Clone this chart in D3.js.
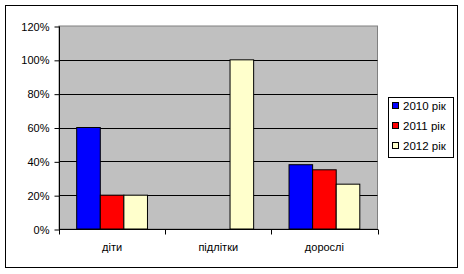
<!DOCTYPE html>
<html>
<head>
<meta charset="utf-8">
<script src="https://cdn.jsdelivr.net/npm/d3@7"></script>
<style>
  body { margin: 0; background: #fff; }
  text { font-family: "Liberation Sans", Arial, sans-serif; font-size: 11px; fill: #000; }
</style>
</head>
<body>
<div id="chart"></div>
<script>
var categories = ["діти", "підлітки", "дорослі"];
var seriesNames = ["2010 рік", "2011 рік", "2012 рік"];
var values2010 = [60, 0, 38];
var values2011 = [20, 0, 35];
var values2012 = [20, 100, 26.5];
var yTicks = [0, 20, 40, 60, 80, 100, 120];

var colors = ["#0000ff", "#ff0000", "#ffffcc"];
var series = [values2010, values2011, values2012];

var w = 464, h = 274;
var plot = { left: 59, top: 26, right: 377.5, bottom: 229 };

var svg = d3.select("#chart").append("svg")
    .attr("width", w)
    .attr("height", h);

// outer frame
svg.append("rect")
    .attr("x", 5.5).attr("y", 5.5)
    .attr("width", 452).attr("height", 262)
    .attr("fill", "#fff")
    .attr("stroke", "#000");

var x0 = d3.scaleBand()
    .domain(categories)
    .range([plot.left, plot.right])
    .paddingInner(0).paddingOuter(0);

// gap width 150% -> 1.5 bar widths of space per category
var x1 = d3.scaleBand()
    .domain(seriesNames)
    .range([0, x0.bandwidth()])
    .paddingOuter(0.75 / 4.5 * 3 / (3 - 0)).paddingInner(0);
var barW = x0.bandwidth() / 4.5;
var groupOffset = barW * 0.75;

var yScale = d3.scaleLinear()
    .domain([0, 120])
    .range([plot.bottom, plot.top]);

// plot background
svg.append("rect")
    .attr("x", plot.left).attr("y", plot.top)
    .attr("width", plot.right - plot.left)
    .attr("height", plot.bottom - plot.top)
    .attr("fill", "#c0c0c0")
    .attr("stroke", "#808080");

// grid lines
svg.append("g")
    .selectAll("line")
    .data(yTicks.filter((d) => d > 0 && d < 120))
    .join("line")
    .attr("x1", plot.left).attr("x2", plot.right)
    .attr("y1", (d) => Math.round(yScale(d)) + 0.5)
    .attr("y2", (d) => Math.round(yScale(d)) + 0.5)
    .attr("stroke", "#000");

// bars
series.forEach((vals, si) => {
    svg.append("g")
        .selectAll("rect")
        .data(vals.map((v, i) => ({ cat: categories[i], v: v })).filter((d) => d.v > 0))
        .join("rect")
        .attr("x", (d) => x0(d.cat) + groupOffset + si * barW)
        .attr("y", (d) => yScale(d.v))
        .attr("width", barW)
        .attr("height", (d) => plot.bottom - yScale(d.v))
        .attr("fill", colors[si])
        .attr("stroke", "#000")
        .attr("stroke-width", 1);
});

// y axis
var yAxis = d3.axisLeft(yScale)
    .tickValues(yTicks)
    .tickSize(5)
    .tickPadding(5)
    .tickFormat((d) => d + "%");

var yG = svg.append("g")
    .attr("transform", `translate(${plot.left + 0.5}, 0.5)`)
    .call(yAxis);
yG.select(".domain").attr("stroke", "#000").attr("d", `M0,${plot.top}V${plot.bottom}`);
yG.selectAll("text").style("font-size", "11px").style("font-family", "'Liberation Sans', Arial, sans-serif");

// x axis
var xG = svg.append("g")
    .attr("transform", `translate(0, ${plot.bottom + 0.5})`);
xG.append("line")
    .attr("x1", plot.left).attr("x2", plot.right + 0.5)
    .attr("stroke", "#000");
xG.selectAll("line.tick")
    .data(categories.concat(["end"]))
    .join("line")
    .attr("class", "tick")
    .attr("x1", (d, i) => Math.round(plot.left + i * x0.bandwidth()) + 0.5)
    .attr("x2", (d, i) => Math.round(plot.left + i * x0.bandwidth()) + 0.5)
    .attr("y1", 0).attr("y2", 5)
    .attr("stroke", "#000");
xG.selectAll("text")
    .data(categories)
    .join("text")
    .attr("x", (d) => x0(d) + x0.bandwidth() / 2)
    .attr("y", 21)
    .attr("text-anchor", "middle")
    .text((d) => d);

// legend
var legend = svg.append("g");
legend.append("rect")
    .attr("x", 388.5).attr("y", 97.5)
    .attr("width", 65).attr("height", 60)
    .attr("fill", "#fff")
    .attr("stroke", "#000");
var items = legend.selectAll("g.item")
    .data(seriesNames)
    .join("g")
    .attr("class", "item")
    .attr("transform", (d, i) => `translate(392, ${106 + i * 20})`);
items.append("rect")
    .attr("x", 0.5).attr("y", -3.5)
    .attr("width", 6).attr("height", 6)
    .attr("fill", (d, i) => colors[i])
    .attr("stroke", "#000");
items.append("text")
    .attr("x", 11)
    .attr("y", 4)
    .style("font-size", "11.5px")
    .text((d) => d);
</script>
</body>
</html>
